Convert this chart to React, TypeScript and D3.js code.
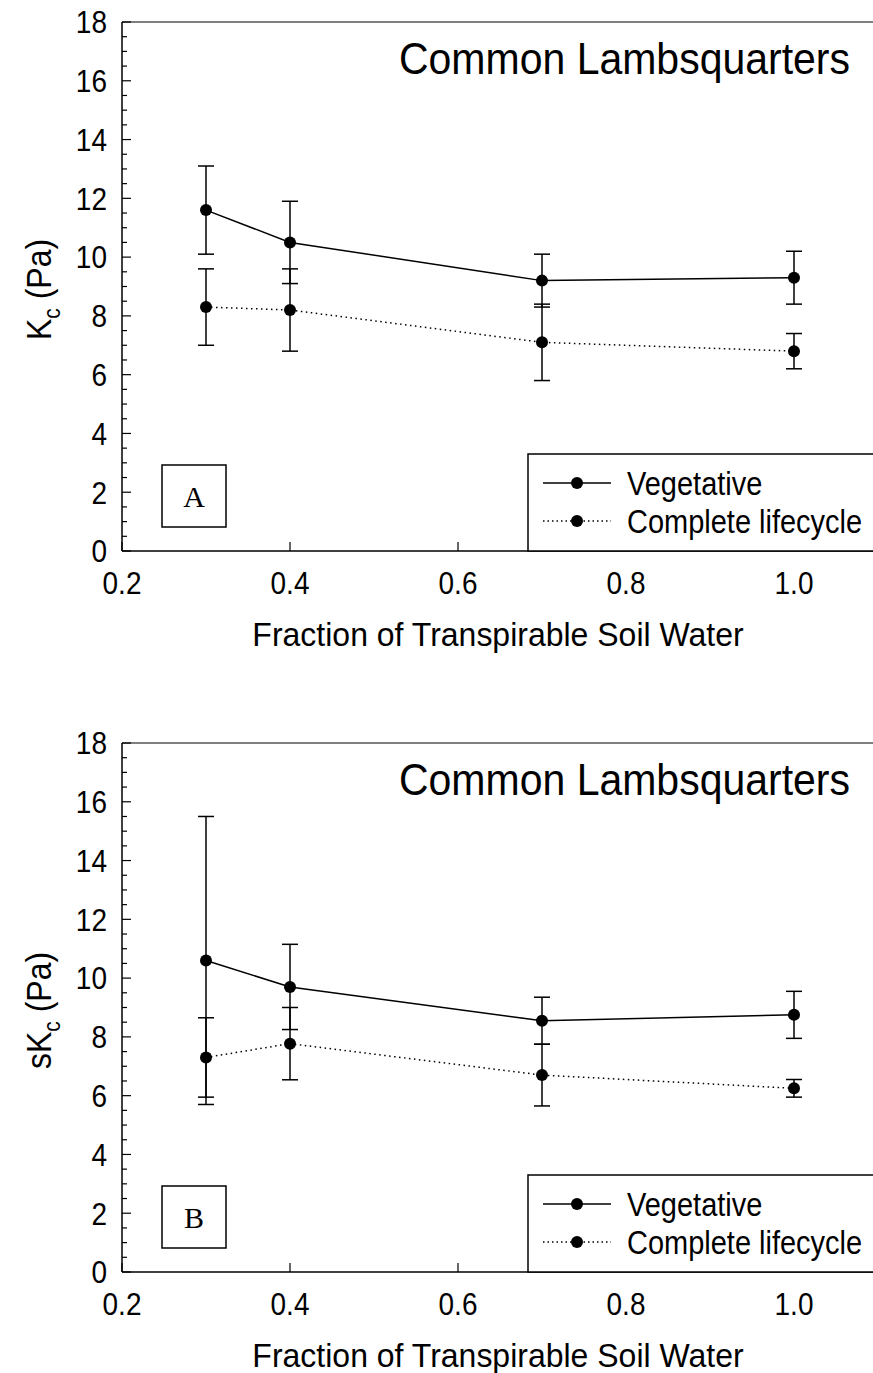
import React from 'react';
import * as d3 from 'd3';

// fraction of transpirable soil water (x)
const fractions = [0.3, 0.4, 0.7, 1.0];

// panel A: Kc (Pa)
const kcVegetative = [11.6, 10.5, 9.2, 9.3];
const kcVegetativeErr = [1.5, 1.4, 0.9, 0.9];
const kcComplete = [8.3, 8.2, 7.1, 6.8];
const kcCompleteErr = [1.3, 1.4, 1.3, 0.6];

// panel B: sKc (Pa)
const skcVegetative = [10.6, 9.7, 8.55, 8.75];
const skcVegetativeErr = [4.9, 1.45, 0.8, 0.8];
const skcComplete = [7.3, 7.77, 6.7, 6.25];
const skcCompleteErr = [1.35, 1.23, 1.05, 0.3];

const xTicks = [0.2, 0.4, 0.6, 0.8, 1.0];
const yTicks = [0, 2, 4, 6, 8, 10, 12, 14, 16, 18];
const seriesNames = ['Vegetative', 'Complete lifecycle'];

const FONT = 'Liberation Sans, Arial, Helvetica, sans-serif';
const W = 873;
const H = 1373;
const left = 122;

const x = d3.scaleLinear().domain([0.2, 1.1]).range([left, left + 0.9 * 840]);

// text centred vertically on (x, y), stretched a little vertically like the original
const T = ({ x, y, size, anchor = 'start', rotate = 0, sy = 1.12, children }: any) => (
  <text
    transform={`translate(${x},${y}) rotate(${rotate}) scale(1,${sy})`}
    dy="0.36em"
    textAnchor={anchor}
    fontSize={size}
    fontFamily={FONT}
  >
    {children}
  </text>
);

type PanelProps = {
  top: number;
  bottom: number;
  yLabelPrefix: string;
  letter: string;
  veg: number[];
  vegErr: number[];
  comp: number[];
  compErr: number[];
};

const Panel = ({ top, bottom, yLabelPrefix, letter, veg, vegErr, comp, compErr }: PanelProps) => {
  const y = d3.scaleLinear().domain([0, 18]).range([bottom, top]);
  const line = d3.line<number>().x((_, i) => x(fractions[i])).y(d => y(d));
  const minor = d3.range(0, 18.01, 0.5).filter(v => v % 2 !== 0);
  const right = x(1.1);

  const series = [
    { vals: veg, err: vegErr, dash: undefined as string | undefined },
    { vals: comp, err: compErr, dash: '1.5,3.5' },
  ];

  return (
    <g>
      {/* frame */}
      <line x1={left} x2={left} y1={top} y2={bottom} stroke="#000" strokeWidth={1.5} />
      <line x1={left} x2={right} y1={bottom} y2={bottom} stroke="#000" strokeWidth={1.5} />
      <line x1={left} x2={right} y1={top} y2={top} stroke="#000" strokeWidth={1.2} />

      {/* y ticks */}
      {yTicks.map(t => (
        <g key={'y' + t}>
          <line x1={left} x2={left + 9} y1={y(t)} y2={y(t)} stroke="#000" strokeWidth={1.2} />
          <T x={left - 15} y={y(t)} size={28} anchor="end">{t}</T>
        </g>
      ))}
      {minor.map(t => (
        <line key={'m' + t} x1={left} x2={left + 5} y1={y(t)} y2={y(t)} stroke="#000" strokeWidth={1.2} />
      ))}

      {/* x ticks */}
      {xTicks.map(t => (
        <g key={'x' + t}>
          <line x1={x(t)} x2={x(t)} y1={bottom} y2={bottom - 9} stroke="#000" strokeWidth={1.2} />
          <T x={x(t)} y={bottom + 32} size={28} anchor="middle">{d3.format('.1f')(t)}</T>
        </g>
      ))}

      {/* axis labels */}
      <T x={498} y={bottom + 83} size={32} sy={1.05} anchor="middle">Fraction of Transpirable Soil Water</T>
      <T x={38} y={(top + bottom) / 2 + 3} size={32} anchor="middle" rotate={-90}>
        {yLabelPrefix}K<tspan fontSize={21} dy={8}>c</tspan>
        <tspan dy={-8}> (Pa)</tspan>
      </T>

      {/* title */}
      <T x={850} y={top + 36} size={41} sy={1.08} anchor="end">Common Lambsquarters</T>

      {/* series */}
      {series.map((s, si) => (
        <g key={'s' + si}>
          <path d={line(s.vals) || ''} fill="none" stroke="#000" strokeWidth={1.5} strokeDasharray={s.dash} />
          {s.vals.map((v, i) => {
            const cx = x(fractions[i]);
            const hi = y(v + s.err[i]);
            const lo = y(v - s.err[i]);
            return (
              <g key={i}>
                <line x1={cx} x2={cx} y1={hi} y2={lo} stroke="#000" strokeWidth={1.5} />
                <line x1={cx - 8} x2={cx + 8} y1={hi} y2={hi} stroke="#000" strokeWidth={1.5} />
                <line x1={cx - 8} x2={cx + 8} y1={lo} y2={lo} stroke="#000" strokeWidth={1.5} />
                <circle cx={cx} cy={y(v)} r={6} fill="#000" />
              </g>
            );
          })}
        </g>
      ))}

      {/* letter box */}
      <rect x={162} y={bottom - 86} width={64} height={62} fill="#fff" stroke="#000" strokeWidth={1.5} />
      <text x={194} y={bottom - 55} dy="0.35em" textAnchor="middle" fontSize={30} fontFamily="Liberation Serif, Times New Roman, serif">
        {letter}
      </text>

      {/* legend */}
      <rect x={528} y={bottom - 97} width={right - 528} height={97} fill="#fff" stroke="#000" strokeWidth={1.5} />
      {seriesNames.map((name, i) => {
        const ly = bottom - 68 + i * 38;
        return (
          <g key={name}>
            <line x1={543} x2={611} y1={ly} y2={ly} stroke="#000" strokeWidth={1.3} strokeDasharray={i === 1 ? '1.5,3' : undefined} />
            <circle cx={577} cy={ly} r={6} fill="#000" />
            <T x={627} y={ly} size={29}>{name}</T>
          </g>
        );
      })}
    </g>
  );
};

export default function App() {
  return (
    <svg width={W} height={H} style={{ position: 'absolute', left: 0, top: 0, background: '#fff' }}>
      <rect width={W} height={H} fill="#fff" />
      <Panel top={22} bottom={551} yLabelPrefix="" letter="A" veg={kcVegetative} vegErr={kcVegetativeErr} comp={kcComplete} compErr={kcCompleteErr} />
      <Panel top={743} bottom={1272} yLabelPrefix="s" letter="B" veg={skcVegetative} vegErr={skcVegetativeErr} comp={skcComplete} compErr={skcCompleteErr} />
    </svg>
  );
}
